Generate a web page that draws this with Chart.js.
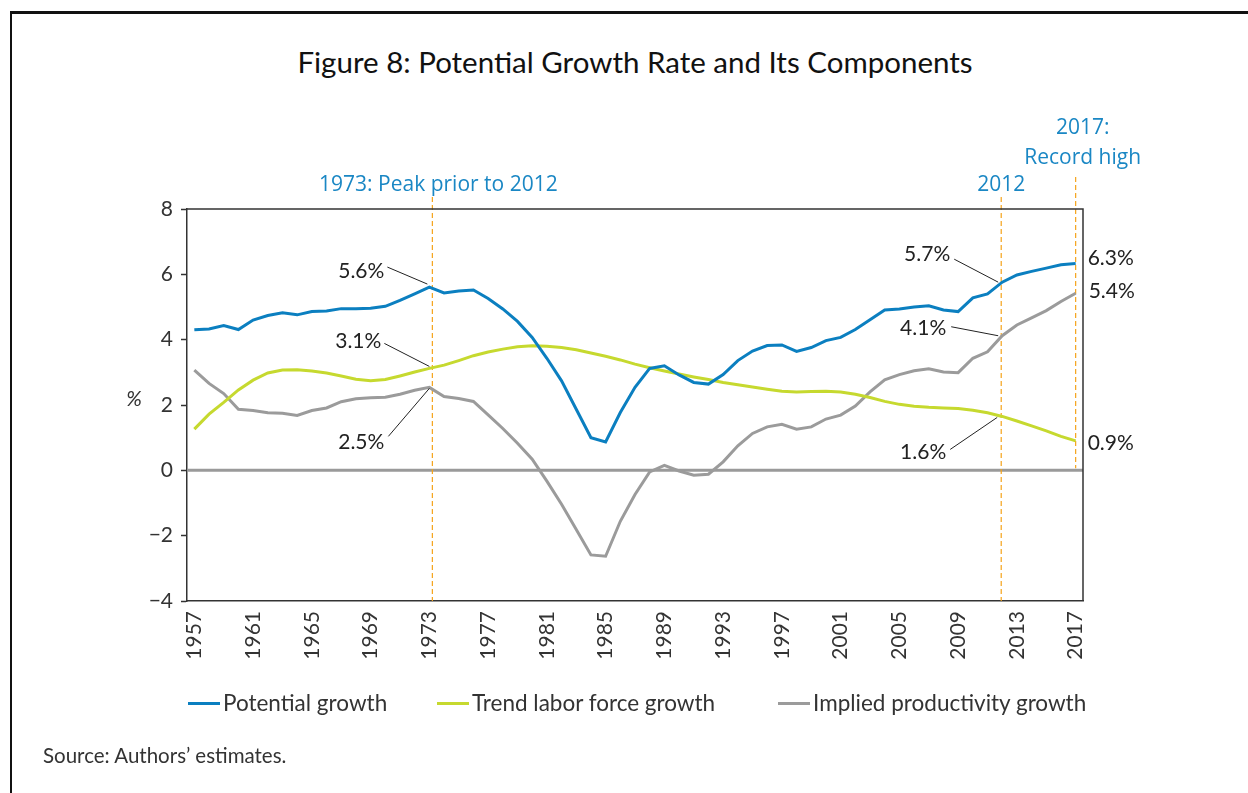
<!DOCTYPE html>
<html>
<head>
<meta charset="utf-8">
<script src="https://cdn.jsdelivr.net/npm/chart.js@4.4.1/dist/chart.umd.min.js"></script>
<style>
  body { margin: 0; background: #fff; }
  #wrap { position: relative; width: 1248px; height: 793px; overflow: hidden; font-family: Lato, "Open Sans", sans-serif; color: #333; }
  #frame { position: absolute; left: 10px; top: 11px; width: 1260px; height: 800px; border-left: 2px solid #111; border-top: 3px solid #111; }
  #title { position: absolute; left: 0; width: 1270px; top: 44px; text-align: center; font-size: 29.5px; color: #111; }
  .leg { position: absolute; top: 689px; font-size: 22.5px; color: #333; white-space: nowrap; }
  .leg span { display: inline-block; width: 32px; height: 3px; vertical-align: middle; margin-right: 3px; position: relative; top: -2px; }
  #source { position: absolute; left: 43px; top: 743px; font-size: 20.5px; color: #333; }
  canvas { position: absolute; left: 0; top: 0; }
</style>
</head>
<body>
<div id="wrap">
  <div id="frame"></div>
  <div id="title">Figure 8: Potential Growth Rate and Its Components</div>
  <canvas id="growthChart" width="1248" height="793"></canvas>
  <div class="leg" style="left:188px"><span style="background:#0b7fc0"></span>Potential growth</div>
  <div class="leg" style="left:437px"><span style="background:#c6d92f"></span>Trend labor force growth</div>
  <div class="leg" style="left:778px"><span style="background:#9b9b9b"></span>Implied productivity growth</div>
  <div id="source">Source: Authors’ estimates.</div>
</div>
<script>
const years = [
  1957, 1958, 1959, 1960, 1961, 1962, 1963, 1964, 1965, 1966,
  1967, 1968, 1969, 1970, 1971, 1972, 1973, 1974, 1975, 1976,
  1977, 1978, 1979, 1980, 1981, 1982, 1983, 1984, 1985, 1986,
  1987, 1988, 1989, 1990, 1991, 1992, 1993, 1994, 1995, 1996,
  1997, 1998, 1999, 2000, 2001, 2002, 2003, 2004, 2005, 2006,
  2007, 2008, 2009, 2010, 2011, 2012, 2013, 2014, 2015, 2016,
  2017
];

const potentialGrowth = [
  4.30, 4.33, 4.43, 4.31, 4.60, 4.74, 4.82, 4.76, 4.86, 4.88,
  4.95, 4.95, 4.96, 5.02, 5.20, 5.40, 5.61, 5.43, 5.49, 5.52,
  5.26, 4.94, 4.56, 4.07, 3.43, 2.74, 1.87, 1.00, 0.87, 1.77,
  2.54, 3.12, 3.20, 2.92, 2.69, 2.64, 2.93, 3.36, 3.65, 3.82,
  3.84, 3.64, 3.76, 3.97, 4.07, 4.31, 4.61, 4.91, 4.94, 5.00,
  5.04, 4.91, 4.86, 5.28, 5.40, 5.76, 5.98, 6.09, 6.19, 6.29,
  6.33
];

const laborForceGrowth = [
  1.26, 1.72, 2.08, 2.46, 2.76, 2.98, 3.07, 3.08, 3.04, 2.98,
  2.89, 2.79, 2.74, 2.78, 2.89, 3.01, 3.12, 3.22, 3.36, 3.51,
  3.62, 3.71, 3.78, 3.81, 3.80, 3.76, 3.69, 3.59, 3.49, 3.38,
  3.25, 3.14, 3.04, 2.95, 2.86, 2.78, 2.69, 2.62, 2.55, 2.48,
  2.42, 2.40, 2.41, 2.42, 2.40, 2.33, 2.23, 2.11, 2.02, 1.96,
  1.93, 1.91, 1.89, 1.84, 1.76, 1.65, 1.51, 1.36, 1.21, 1.04,
  0.90
];

const productivityGrowth = [
  3.07, 2.66, 2.35, 1.87, 1.83, 1.76, 1.75, 1.68, 1.83, 1.91,
  2.10, 2.19, 2.22, 2.24, 2.33, 2.45, 2.54, 2.26, 2.20, 2.11,
  1.70, 1.28, 0.83, 0.34, -0.33, -1.04, -1.81, -2.59, -2.63, -1.56,
  -0.74, -0.05, 0.15, -0.02, -0.15, -0.12, 0.26, 0.75, 1.13, 1.33,
  1.41, 1.26, 1.33, 1.57, 1.69, 1.97, 2.40, 2.77, 2.93, 3.05,
  3.11, 3.01, 2.99, 3.43, 3.63, 4.12, 4.45, 4.67, 4.89, 5.17,
  5.42
];

const yTicks = [-4, -2, 0, 2, 4, 6, 8];

// vertical markers and their blue notes
const markerYears = [1973, 2012, 2017];
const markerShift = { 1973: 3, 2012: -1, 2017: 0 };
const markerNotes = [
  { year: 1973, dx: 9, lines: ['1973: Peak prior to 2012'] },
  { year: 2012, dx: -1, lines: ['2012'] },
  { year: 2017, dx: 7, lines: ['2017:', 'Record high'] }
];

// value callouts: series index, year, text
const callouts = [
  { series: 0, year: 1973, text: '5.6%', tx: -45, ty: -16, from: [-42, -20], to: [-2, -3] },
  { series: 1, year: 1973, text: '3.1%', tx: -48, ty: -27, from: [-45, -25], to: [0, -2] },
  { series: 2, year: 1973, text: '2.5%', tx: -45, ty: 55, from: [-41, 49], to: [0, 1] },
  { series: 0, year: 2012, text: '5.7%', tx: -52, ty: -28, from: [-48, -23], to: [-4, 0] },
  { series: 2, year: 2012, text: '4.1%', tx: -56, ty: -8, from: [-51, -9], to: [-4, 0] },
  { series: 1, year: 2012, text: '1.6%', tx: -56, ty: 36, from: [-52, 33], to: [-5, 1] },
  { series: 0, year: 2017, text: '6.3%', tx: 12, ty: -5 },
  { series: 2, year: 2017, text: '5.4%', tx: 13, ty: -2 },
  { series: 1, year: 2017, text: '0.9%', tx: 12, ty: 2 }
];

const seriesData = [potentialGrowth, laborForceGrowth, productivityGrowth];

const decorPlugin = {
  id: 'decor',
  beforeDatasetsDraw(chart) {
    const { ctx, chartArea, scales } = chart;
    const x = scales.x, y = scales.y;
    ctx.save();
    // zero line
    const y0 = y.getPixelForValue(0);
    ctx.strokeStyle = '#9a9a9a';
    ctx.lineWidth = 3;
    ctx.beginPath();
    ctx.moveTo(chartArea.left, y0);
    ctx.lineTo(chartArea.right, y0);
    ctx.stroke();
    // dashed markers
    ctx.strokeStyle = '#f5a31a';
    ctx.lineWidth = 1.2;
    ctx.setLineDash([5, 3]);
    markerYears.forEach(function(yr) {
      const px = x.getPixelForValue(years.indexOf(yr)) + markerShift[yr];
      const bottom = yr === 2017 ? y0 - 2 : chartArea.bottom;
      const top = yr === 2017 ? 177 : 197;
      ctx.beginPath();
      ctx.moveTo(px, top);
      ctx.lineTo(px, bottom);
      ctx.stroke();
    });
    ctx.restore();
  },
  afterDatasetsDraw(chart) {
    const { ctx, chartArea, scales } = chart;
    const x = scales.x, y = scales.y;
    ctx.save();
    // plot box top and right
    ctx.strokeStyle = '#333';
    ctx.lineWidth = 1.5;
    ctx.beginPath();
    ctx.moveTo(chartArea.left, chartArea.top);
    ctx.lineTo(chartArea.right, chartArea.top);
    ctx.lineTo(chartArea.right, chartArea.bottom);
    ctx.stroke();

    // blue notes
    ctx.fillStyle = '#1a87c4';
    ctx.font = '21px "Open Sans"';
    ctx.textAlign = 'center';
    ctx.textBaseline = 'middle';
    markerNotes.forEach(function(n) {
      const px = x.getPixelForValue(years.indexOf(n.year)) + n.dx;
      n.lines.forEach(function(t, i) {
        const ly = n.lines.length > 1 ? 128 + i * 30 : 185;
        ctx.fillText(t, px, ly);
      });
    });

    // value callouts
    ctx.font = '21px Lato';
    ctx.fillStyle = '#222';
    ctx.strokeStyle = '#222';
    ctx.lineWidth = 1;
    callouts.forEach(function(c) {
      const i = years.indexOf(c.year);
      const px = x.getPixelForValue(i);
      const py = y.getPixelForValue(seriesData[c.series][i]);
      ctx.textAlign = c.tx < 0 ? 'right' : 'left';
      ctx.fillText(c.text, px + c.tx, py + c.ty);
      if (c.from) {
        ctx.beginPath();
        ctx.moveTo(px + c.from[0], py + c.from[1]);
        ctx.lineTo(px + c.to[0], py + c.to[1]);
        ctx.stroke();
      }
    });

    // y axis title
    ctx.font = 'italic 21px Lato';
    ctx.fillStyle = '#333';
    ctx.textAlign = 'center';
    ctx.fillText('%', 134, y.getPixelForValue(2) - 6);
    ctx.restore();
  }
};

const ctx = document.getElementById('growthChart').getContext('2d');
const growthChart = new Chart(ctx, {
  type: 'line',
  data: {
    labels: years,
    datasets: [
      { label: 'Potential growth', data: potentialGrowth, borderColor: '#0b7fc0' },
      { label: 'Trend labor force growth', data: laborForceGrowth, borderColor: '#c6d92f' },
      { label: 'Implied productivity growth', data: productivityGrowth, borderColor: '#9b9b9b' }
    ]
  },
  options: {
    responsive: false,
    animation: false,
    layout: { padding: { left: 100, top: 209, right: 165, bottom: 112 } },
    elements: {
      point: { radius: 0 },
      line: { borderWidth: 3, tension: 0, fill: false }
    },
    plugins: {
      legend: { display: false },
      tooltip: { enabled: false }
    },
    scales: {
      x: {
        type: 'category',
        offset: true,
        grid: { display: false, drawTicks: false },
        border: { display: true, color: '#333', width: 1.5 },
        ticks: {
          autoSkip: false,
          minRotation: 90,
          maxRotation: 90,
          padding: 10,
          color: '#333',
          font: { family: 'Lato', size: 21 },
          callback: function(value, index) {
            return index % 4 === 0 ? this.getLabelForValue(value) : '';
          }
        },
        afterFit: function(scale) { scale.height = 80; }
      },
      y: {
        min: -4,
        max: 8,
        afterBuildTicks: function(scale) {
          scale.ticks = yTicks.map(function(v) { return { value: v }; });
        },
        grid: { drawOnChartArea: false, drawTicks: true, tickLength: 6, tickColor: '#333', tickWidth: 1.5 },
        border: { display: true, color: '#333', width: 1.5 },
        ticks: {
          padding: 8,
          color: '#333',
          font: { family: 'Lato', size: 21 },
          callback: function(v) { return String(v).replace('-', '\u2212'); }
        },
        afterFit: function(scale) { scale.width = 87; }
      }
    }
  },
  plugins: [decorPlugin]
});
</script>
</body>
</html>
